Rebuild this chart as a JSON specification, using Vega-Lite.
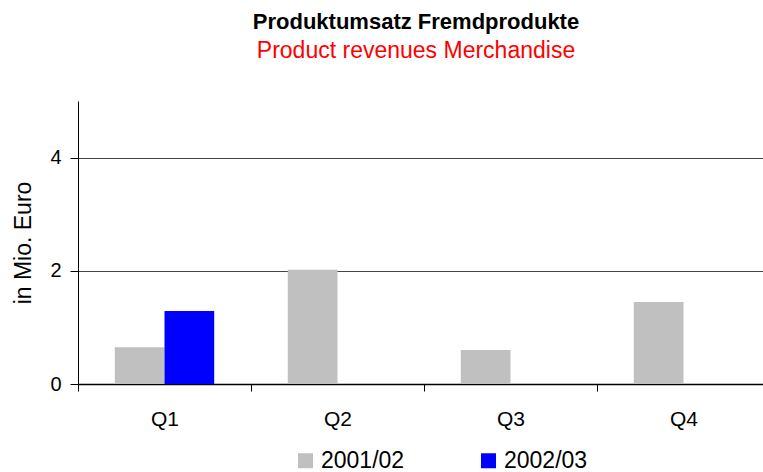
{
  "$schema": "https://vega.github.io/schema/vega-lite/v6.json",
  "autosize": "none",
  "padding": {"left": 78, "top": 101, "right": 0, "bottom": 88},
  "width": 692,
  "height": 283,
  "background": "white",
  "title": {
    "text": "Produktumsatz Fremdprodukte",
    "subtitle": "Product revenues Merchandise",
    "font": "Liberation Sans",
    "subtitleFont": "Liberation Sans",
    "fontSize": 22,
    "fontWeight": "bold",
    "color": "black",
    "subtitleFontSize": 23,
    "subtitleColor": "#FF0000",
    "subtitlePadding": 6,
    "anchor": "middle",
    "dx": -8,
    "offset": 37
  },
  "data": {
    "values": [
      {"quarter": "Q1", "year": "2001/02", "value": 0.65},
      {"quarter": "Q1", "year": "2002/03", "value": 1.29},
      {"quarter": "Q2", "year": "2001/02", "value": 2.02},
      {"quarter": "Q3", "year": "2001/02", "value": 0.6},
      {"quarter": "Q4", "year": "2001/02", "value": 1.45}
    ]
  },
  "mark": {"type": "bar"},
  "encoding": {
    "x": {
      "field": "quarter",
      "type": "nominal",
      "sort": ["Q1", "Q2", "Q3", "Q4"],
      "scale": {"paddingInner": 0, "paddingOuter": 0},
      "axis": {
        "title": null,
        "labelAngle": 0,
        "labelFont": "Liberation Sans",
        "labelFontSize": 21,
        "labelColor": "black",
        "labelPadding": 17,
        "tickBand": "extent",
        "tickSize": 7,
        "tickColor": "black",
        "domainColor": "black",
        "domainWidth": 1.5,
        "grid": false
      }
    },
    "xOffset": {
      "field": "year",
      "type": "nominal",
      "sort": ["2001/02", "2002/03"],
      "scale": {"paddingInner": 0, "paddingOuter": 0.74}
    },
    "y": {
      "field": "value",
      "type": "quantitative",
      "scale": {"domain": [0, 5], "nice": false},
      "axis": {
        "title": "in Mio. Euro",
        "titleFont": "Liberation Sans",
        "titleFontSize": 23,
        "titleFontWeight": "normal",
        "titleColor": "black",
        "titlePadding": 14,
        "values": [0, 2, 4],
        "labelFont": "Liberation Sans",
        "labelFontSize": 20,
        "labelColor": "black",
        "labelPadding": 9,
        "tickSize": 8,
        "tickColor": "black",
        "domainColor": "black",
        "grid": true,
        "gridColor": "#444444",
        "gridWidth": 1
      }
    },
    "color": {
      "field": "year",
      "type": "nominal",
      "sort": ["2001/02", "2002/03"],
      "scale": {"domain": ["2001/02", "2002/03"], "range": ["#C0C0C0", "#0000FF"]},
      "legend": {
        "title": null,
        "orient": "none",
        "direction": "horizontal",
        "legendX": 216,
        "legendY": 348,
        "symbolType": "square",
        "symbolSize": 225,
        "symbolStrokeWidth": 0,
        "labelFont": "Liberation Sans",
        "labelFontSize": 23,
        "labelColor": "black",
        "labelOffset": 4,
        "columnPadding": 72
      }
    }
  },
  "config": {
    "view": {"stroke": null}
  }
}
